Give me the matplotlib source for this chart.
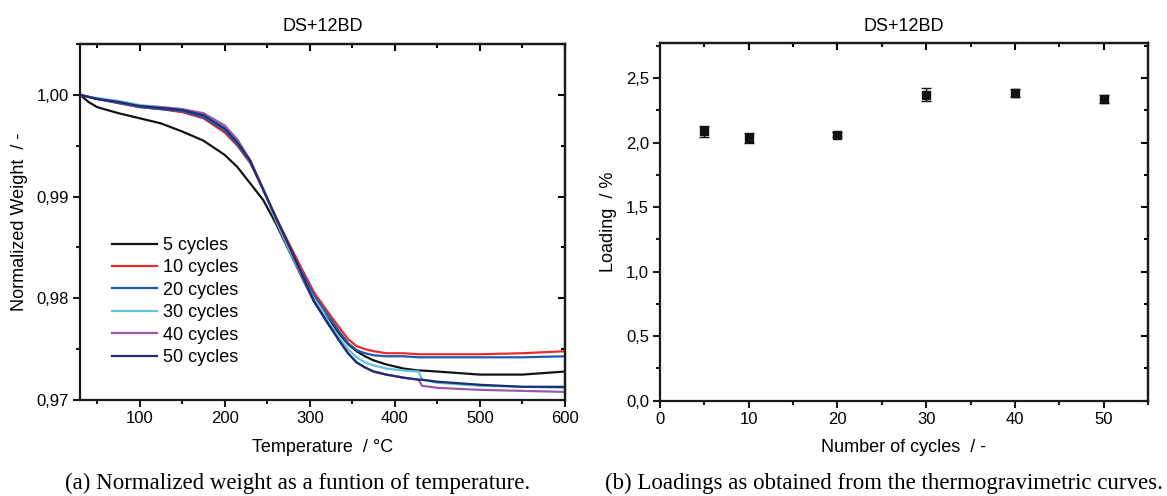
import matplotlib
matplotlib.use("Agg")
import matplotlib.pyplot as plt
from matplotlib.ticker import MultipleLocator, FuncFormatter

plt.rcParams["font.family"] = ["Liberation Sans", "DejaVu Sans"]

# thermogravimetric curves
temp = [30, 40, 50, 75, 100, 125, 150, 175, 200, 215, 230, 245, 260, 275, 290,
        305, 320, 335, 345, 355, 365, 375, 390, 410, 428, 432, 450, 500, 550, 600]
w_5 = [1.0000, 0.9993, 0.9988, 0.9982, 0.9977, 0.9972, 0.9964, 0.9955, 0.9941,
       0.9929, 0.9913, 0.9897, 0.9874, 0.9848, 0.9822, 0.9797, 0.9781, 0.9765,
       0.9755, 0.9748, 0.9743, 0.9739, 0.9735, 0.9731, 0.9729, 0.9729, 0.9728,
       0.9725, 0.9725, 0.9728]
w_10 = [1.0000, 0.9998, 0.9996, 0.9992, 0.9988, 0.9986, 0.9983, 0.9977, 0.9963,
        0.9950, 0.9933, 0.9908, 0.9880, 0.9855, 0.9830, 0.9806, 0.9788, 0.9771,
        0.9760, 0.9753, 0.9750, 0.9748, 0.9746, 0.9746, 0.9745, 0.9745, 0.9745,
        0.9745, 0.9746, 0.9748]
w_20 = [1.0000, 0.9998, 0.9996, 0.9992, 0.9988, 0.9986, 0.9984, 0.9978, 0.9965,
        0.9951, 0.9934, 0.9908, 0.9879, 0.9852, 0.9827, 0.9803, 0.9785, 0.9767,
        0.9756, 0.9749, 0.9746, 0.9744, 0.9743, 0.9743, 0.9742, 0.9742, 0.9742,
        0.9742, 0.9742, 0.9743]
w_30 = [1.0000, 0.9998, 0.9997, 0.9994, 0.9990, 0.9988, 0.9986, 0.9980, 0.9967,
        0.9953, 0.9935, 0.9908, 0.9877, 0.9849, 0.9823, 0.9799, 0.9780, 0.9761,
        0.9750, 0.9742, 0.9737, 0.9734, 0.9731, 0.9729, 0.9728, 0.9720, 0.9717,
        0.9714, 0.9713, 0.9712]
w_40 = [1.0000, 0.9998, 0.9996, 0.9993, 0.9989, 0.9988, 0.9986, 0.9982, 0.9970,
        0.9956, 0.9936, 0.9908, 0.9879, 0.9852, 0.9824, 0.9797, 0.9777, 0.9758,
        0.9746, 0.9737, 0.9732, 0.9728, 0.9725, 0.9722, 0.9720, 0.9714, 0.9712,
        0.9710, 0.9709, 0.9708]
w_50 = [1.0000, 0.9998, 0.9996, 0.9993, 0.9989, 0.9987, 0.9985, 0.9980, 0.9967,
        0.9953, 0.9935, 0.9907, 0.9880, 0.9853, 0.9825, 0.9797, 0.9777, 0.9758,
        0.9746, 0.9737, 0.9732, 0.9728, 0.9725, 0.9722, 0.9720, 0.9720, 0.9718,
        0.9715, 0.9713, 0.9713]
curve_labels = ["5 cycles", "10 cycles", "20 cycles", "30 cycles", "40 cycles", "50 cycles"]
curve_colors = ["#141414", "#ec2a2a", "#2258a8", "#5cc6dc", "#9a5aaa", "#1f2c70"]

# loadings
cycles = [5, 10, 20, 30, 40, 50]
loading = [2.087, 2.036, 2.062, 2.372, 2.384, 2.340]
loading_err = [0.04, 0.04, 0.02, 0.05, 0.03, 0.03]


def comma(fmt):
    return FuncFormatter(lambda v, p: (fmt % v).replace(".", ","))


def style_axes(ax, xmaj, xmin, ymaj, ymin):
    for s in ax.spines.values():
        s.set_linewidth(1.6)
        s.set_color("#1a1a1a")
    ax.xaxis.set_major_locator(MultipleLocator(xmaj))
    ax.xaxis.set_minor_locator(MultipleLocator(xmin))
    ax.yaxis.set_major_locator(MultipleLocator(ymaj))
    ax.yaxis.set_minor_locator(MultipleLocator(ymin))
    ax.tick_params(which="both", direction="out", width=1.5, color="#1a1a1a",
                   labelsize=12, pad=3)
    ax.tick_params(which="major", length=5)
    ax.tick_params(which="minor", length=3)
    top = ax.secondary_xaxis("top")
    top.xaxis.set_major_locator(MultipleLocator(xmaj))
    top.xaxis.set_minor_locator(MultipleLocator(xmin))
    top.tick_params(which="both", direction="in", width=1.5, labeltop=False)
    top.tick_params(which="major", length=5)
    top.tick_params(which="minor", length=3)
    top.spines["top"].set_linewidth(1.6)
    right = ax.secondary_yaxis("right")
    right.yaxis.set_major_locator(MultipleLocator(ymaj))
    right.yaxis.set_minor_locator(MultipleLocator(ymin))
    right.tick_params(which="both", direction="in", width=1.5, labelright=False)
    right.tick_params(which="major", length=5)
    right.tick_params(which="minor", length=3)
    right.spines["right"].set_linewidth(1.6)


fig = plt.figure(figsize=(11.67, 4.96), dpi=100)

ax1 = fig.add_axes([0.0686, 0.1935, 0.4155, 0.7178])
series = [w_5, w_10, w_20, w_30, w_40, w_50]
for w, lab, col in zip(series, curve_labels, curve_colors):
    ax1.plot(temp, w, color=col, lw=1.6, label=lab)
ax1.set_xlim(30, 600)
ax1.set_ylim(0.97, 1.005)
style_axes(ax1, 100, 50, 0.01, 0.005)
ax1.xaxis.set_major_formatter(comma("%d"))
ax1.yaxis.set_major_formatter(comma("%.2f"))
ax1.set_title("DS+12BD", fontsize=13, pad=9)
ax1.set_xlabel("Temperature  / °C", fontsize=13, labelpad=9)
ax1.set_ylabel("Normalized Weight  / -", fontsize=13, labelpad=6)
ax1.legend(loc="upper left", bbox_to_anchor=(0.066, 0.458), frameon=False,
           fontsize=13, handlelength=2.5, handletextpad=0.3, labelspacing=0.3,
           borderpad=0, borderaxespad=0)

ax2 = fig.add_axes([0.5656, 0.1921, 0.4181, 0.7206])
ax2.errorbar(cycles, loading, yerr=loading_err, fmt="s", color="#111111",
             ms=6, elinewidth=1, capsize=3.5, capthick=1)
ax2.set_xlim(0, 55)
ax2.set_ylim(0, 2.77)
style_axes(ax2, 10, 5, 0.5, 0.25)
ax2.xaxis.set_major_formatter(comma("%d"))
ax2.yaxis.set_major_formatter(comma("%.1f"))
ax2.set_title("DS+12BD", fontsize=13, pad=9)
ax2.set_xlabel("Number of cycles  / -", fontsize=13, labelpad=9)
ax2.set_ylabel("Loading  / %", fontsize=13, labelpad=6)

fig.text(0.255, 0.026, "(a) Normalized weight as a funtion of temperature.",
         ha="center", va="center", fontsize=16.5, family="Liberation Serif")
fig.text(0.7575, 0.026, "(b) Loadings as obtained from the thermogravimetric curves.",
         ha="center", va="center", fontsize=16.5, family="Liberation Serif")

fig.savefig("out.png", dpi=100)
